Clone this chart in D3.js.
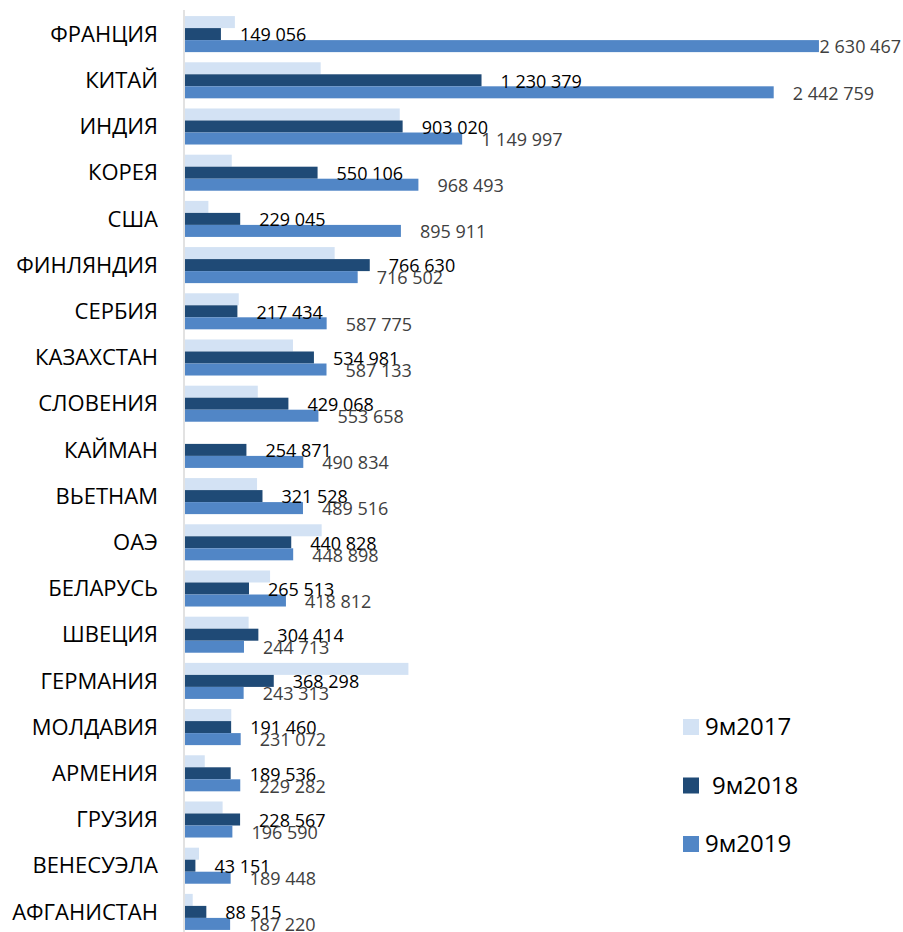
<!DOCTYPE html>
<html>
<head>
<meta charset="utf-8">
<script src="https://cdn.jsdelivr.net/npm/d3@7"></script>
<style>
    body { margin: 0; background: #fff; }
    svg { display: block; font-family: "Open Sans", "Noto Sans", sans-serif; }
</style>
</head>
<body>
<div id="chart"></div>
<script>
// Categories (top to bottom)
var countries = ["ФРАНЦИЯ", "КИТАЙ", "ИНДИЯ", "КОРЕЯ", "США", "ФИНЛЯНДИЯ", "СЕРБИЯ",
    "КАЗАХСТАН", "СЛОВЕНИЯ", "КАЙМАН", "ВЬЕТНАМ", "ОАЭ", "БЕЛАРУСЬ", "ШВЕЦИЯ",
    "ГЕРМАНИЯ", "МОЛДАВИЯ", "АРМЕНИЯ", "ГРУЗИЯ", "ВЕНЕСУЭЛА", "АФГАНИСТАН"];

// 9м2017 has no labels in the picture, values are estimated from the bar lengths
var values2017 = [207000, 563000, 891000, 194000, 97000, 621000, 223000,
    448000, 302000, 0, 299000, 567000, 353000, 264000,
    927000, 192000, 82000, 156000, 58000, 32000];
var values2018 = [149056, 1230379, 903020, 550106, 229045, 766630, 217434,
    534981, 429068, 254871, 321528, 440828, 265513, 304414,
    368298, 191460, 189536, 228567, 43151, 88515];
var values2019 = [2630467, 2442759, 1149997, 968493, 895911, 716502, 587775,
    587133, 553658, 490834, 489516, 448898, 418812, 244713,
    243313, 231072, 229282, 196590, 189448, 187220];

var seriesNames = ["9м2017", "9м2018", "9м2019"];
var seriesValues = [values2017, values2018, values2019];
var seriesColors = ["#d3e2f4", "#1f4a76", "#5186c6"];
var labelColors = [null, "#000000", "#404040"];

var width = 903;
var height = 932;

var svg = d3.select("#chart")
    .append("svg")
    .attr("width", width)
    .attr("height", height);

// Scales
var x = d3.scaleLinear()
    .domain([0, 3000000])
    .range([185, 908]);

var y = d3.scaleBand()
    .domain(countries)
    .range([11, 935])
    .paddingInner(0.22)
    .paddingOuter(0.11);

var ySub = d3.scaleBand()
    .domain(seriesNames)
    .range([0, y.bandwidth()]);

var fmt = d3.formatLocale({ decimal: ",", thousands: " ", grouping: [3], currency: ["", ""] }).format(",");

// Flat data for the bars
var rows = [];
countries.forEach(function (c, i) {
    seriesNames.forEach(function (s, j) {
        rows.push({ country: c, series: s, idx: j, value: seriesValues[j][i] });
    });
});

// Bars
svg.selectAll(".bar")
    .data(rows)
    .enter()
    .append("rect")
    .attr("class", "bar")
    .attr("x", x(0))
    .attr("y", d => y(d.country) + ySub(d.series))
    .attr("width", d => x(d.value) - x(0))
    .attr("height", ySub.bandwidth())
    .attr("fill", d => seriesColors[d.idx]);

// Vertical axis line
svg.append("line")
    .attr("x1", 184)
    .attr("x2", 184)
    .attr("y1", 10)
    .attr("y2", height)
    .attr("stroke", "#d9d9d9")
    .attr("stroke-width", 1.5);

// Category labels
svg.selectAll(".cat")
    .data(countries)
    .enter()
    .append("text")
    .attr("class", "cat")
    .attr("x", 158)
    .attr("y", d => y(d) + y.bandwidth() / 2)
    .attr("dy", "0.35em")
    .attr("text-anchor", "end")
    .style("font-size", "22px")
    .style("fill", "#000")
    .text(d => d);

// Value labels for 2018 and 2019
var labels = svg.selectAll(".val")
    .data(rows.filter(d => d.idx > 0))
    .enter()
    .append("text")
    .attr("class", "val")
    .attr("x", d => x(d.value) + 19)
    .attr("y", d => y(d.country) + ySub(d.series) + ySub.bandwidth() / 2 + 1)
    .attr("dy", "0.35em")
    .style("font-size", "18px")
    .style("fill", d => labelColors[d.idx])
    .text(d => fmt(d.value));

// keep labels inside the picture
labels.each(function () {
    var w = this.getComputedTextLength();
    var cx = +this.getAttribute("x");
    if (cx + w > width - 2) this.setAttribute("x", width - 2 - w);
});

// Legend
var legend = svg.selectAll(".legend")
    .data(seriesNames)
    .enter()
    .append("g")
    .attr("class", "legend")
    .attr("transform", (d, i) => "translate(683," + (727 + i * 58.5) + ")");

legend.append("rect")
    .attr("x", 0)
    .attr("y", -8)
    .attr("width", 16)
    .attr("height", 16)
    .attr("fill", (d, i) => seriesColors[i]);

legend.append("text")
    .attr("x", (d, i) => i === 1 ? 29 : 22)
    .attr("y", 0)
    .attr("dy", "0.35em")
    .style("font-size", "24px")
    .style("fill", "#000")
    .text(d => d);
</script>
</body>
</html>
